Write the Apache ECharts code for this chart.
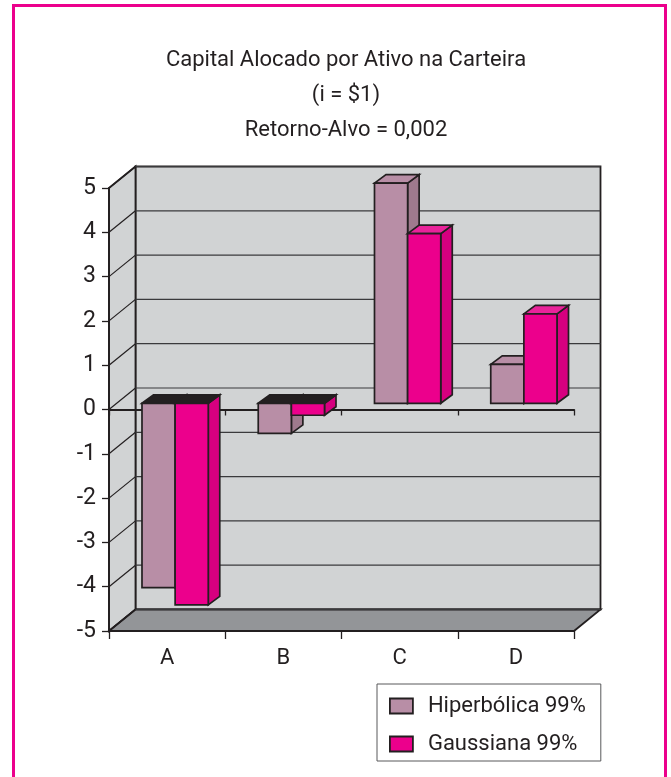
<!DOCTYPE html>
<html><head><meta charset="utf-8">
<style>html,body{margin:0;padding:0;background:#fff}#c{width:671px;height:777px}</style>
<script src="https://cdn.jsdelivr.net/npm/echarts@6/dist/echarts.min.js"></script>
</head><body><div id="c"></div>
<script>
const categories = ['A', 'B', 'C', 'D'];
const hiperbolica = [-4.16, -0.68, 4.97, 0.88];
const gaussiana = [-4.55, -0.27, 3.83, 2.02];
const seriesNames = ['Hiperbólica 99%', 'Gaussiana 99%'];
const titleText = 'Capital Alocado por Ativo na Carteira\n(i = $1)\nRetorno-Alvo = 0,002';
const yTicks = [-5, -4, -3, -2, -1, 0, 1, 2, 3, 4, 5];

const INK = '#231f20', FONT = 'Roboto,"Liberation Sans",sans-serif';
const WALL = {dx: 26.5, dy: -21.5};      // depth of the chart box
const BAR = {dx: 11.5, dy: -8.5, ox: 8, oy: -6.2, w: 0.285}; // bar depth, offset and width share
const chart = echarts.init(document.getElementById('c'), null, {renderer: 'canvas'});

const poly = (pts, fill, lw) => ({type: 'polygon', shape: {points: pts},
  style: {fill, stroke: INK, lineWidth: lw === undefined ? 1.7 : lw, lineJoin: 'miter'}});
const seg = (a, b, lw, col) => ({type: 'line', shape: {x1: a[0], y1: a[1], x2: b[0], y2: b[1]},
  style: {stroke: col || INK, lineWidth: lw}});

function renderWalls(params, api) {
  if (params.dataIndex !== 0) return;
  const n = categories.length, half = api.size([1, 0])[0] / 2;
  const a = api.coord([0, 5]), b = api.coord([0, -5]), c = api.coord([n - 1, -5]);
  const lt = [a[0] - half, a[1]], lb = [b[0] - half, b[1]], rb = [c[0] + half, c[1]];
  const o = p => [p[0] + WALL.dx, p[1] + WALL.dy];
  const rt = [rb[0], lt[1]];
  const ch = [
    poly([o(lt), o(rt), o(rb), o(lb)], '#d1d3d4', 1.8),
    poly([lt, o(lt), o(lb), lb], '#d1d3d4', 1.8),
    poly([lb, o(lb), o(rb), rb], '#939598', 1.8)
  ];
  yTicks.forEach(v => {
    const y = api.coord([0, v])[1], p = [lt[0], y];
    ch.push(seg(p, o(p), 1.2));
    ch.push(seg(o(p), [o(rb)[0], o(p)[1]], 1.2, '#3a3a3c'));
  });
  return {type: 'group', children: ch};
}

function makeBar(slot, front, topCol, side) {
  return function (params, api) {
    const i = api.value(0), v = api.value(1);
    const band = api.size([1, 0])[0], w = band * BAR.w;
    const c = api.coord([i, 0]), e = api.coord([i, v]);
    const x0 = c[0] + BAR.ox + slot * w, x1 = x0 + w;
    const y0 = c[1] + BAR.oy, y1 = e[1] + BAR.oy;
    const d = p => [p[0] + BAR.dx, p[1] + BAR.dy];
    const yTop = Math.min(y0, y1), yBot = Math.max(y0, y1);
    const tl = [x0, yTop], tr = [x1, yTop], br = [x1, yBot], bl = [x0, yBot];
    return {type: 'group', children: [
      poly([tr, d(tr), d(br), br], side),
      poly([tl, d(tl), d(tr), tr], v < 0 ? INK : topCol),
      poly([tl, tr, br, bl], front)
    ]};
  };
}

const seriesData = vals => vals.map((v, i) => [i, v]);

chart.setOption({
  animation: false,
  backgroundColor: '#fff',
  title: {text: titleText, left: 341, top: 38, textAlign: 'center',
    textStyle: {fontFamily: FONT, fontWeight: 'normal', fontSize: 22, lineHeight: 35, color: INK}},
  grid: {left: 109, right: 97, top: 188, bottom: 146, show: false},
  xAxis: [
    {type: 'category', data: categories, position: 'bottom', boundaryGap: true,
      axisLine: {onZero: false, lineStyle: {color: INK, width: 1.8}},
      axisTick: {show: true, length: 8, lineStyle: {color: INK, width: 1.3}},
      axisLabel: {margin: 16, fontFamily: FONT, fontSize: 22, color: INK},
      splitLine: {show: false}, z: 1},
    {type: 'category', data: categories, position: 'top', boundaryGap: true,
      axisLine: {onZero: true, lineStyle: {color: INK, width: 2}},
      axisTick: {show: true, inside: true, length: 6, lineStyle: {color: INK, width: 1.3}},
      axisLabel: {show: false}, splitLine: {show: false}, z: 1}
  ],
  yAxis: {type: 'value', min: -5, max: 5, interval: 1, position: 'left',
    axisLine: {show: true, onZero: false, lineStyle: {color: INK, width: 1.8}},
    axisTick: {show: true, length: 7, lineStyle: {color: INK, width: 1.3}},
    axisLabel: {margin: 13, fontFamily: FONT, fontSize: 23, color: INK},
    splitLine: {show: false}, z: 1},
  legend: {left: 377, top: 684, orient: 'vertical',
    padding: [10, 15, 5, 12], itemGap: 14, itemWidth: 23, itemHeight: 15,
    backgroundColor: '#fff', borderColor: '#58595b', borderWidth: 1, borderRadius: 0,
    textStyle: {fontFamily: FONT, fontSize: 22, lineHeight: 24, color: INK, padding: [0, 0, 0, 10]},
    data: [
      {name: seriesNames[0], icon: 'rect', itemStyle: {color: '#b88ea6', borderColor: INK, borderWidth: 1.8}},
      {name: seriesNames[1], icon: 'rect', itemStyle: {color: '#ec008c', borderColor: INK, borderWidth: 1.8}}
    ]},
  graphic: [{type: 'polyline', silent: true, z: 100,
    shape: {points: [[13.5, 777], [13.5, 5.5], [665.5, 5.5], [665.5, 777]]},
    style: {fill: 'none', stroke: '#ec008c', lineWidth: 3}}],
  series: [
    {type: 'custom', name: 'walls', silent: true, z: 0, renderItem: renderWalls,
      data: [[0, 0]], encode: {x: 0, y: 1}, clip: false},
    {type: 'custom', name: seriesNames[0], z: 3, clip: false, itemStyle: {color: '#b88ea6'},
      renderItem: makeBar(-1, '#b88ea6', '#b88ea6', '#9f7a8d'),
      data: seriesData(hiperbolica), encode: {x: 0, y: 1}},
    {type: 'custom', name: seriesNames[1], z: 4, clip: false, itemStyle: {color: '#ec008c'},
      renderItem: makeBar(0, '#ec008c', '#e9239a', '#d6007f'),
      data: seriesData(gaussiana), encode: {x: 0, y: 1}}
  ]
});
</script></body></html>
